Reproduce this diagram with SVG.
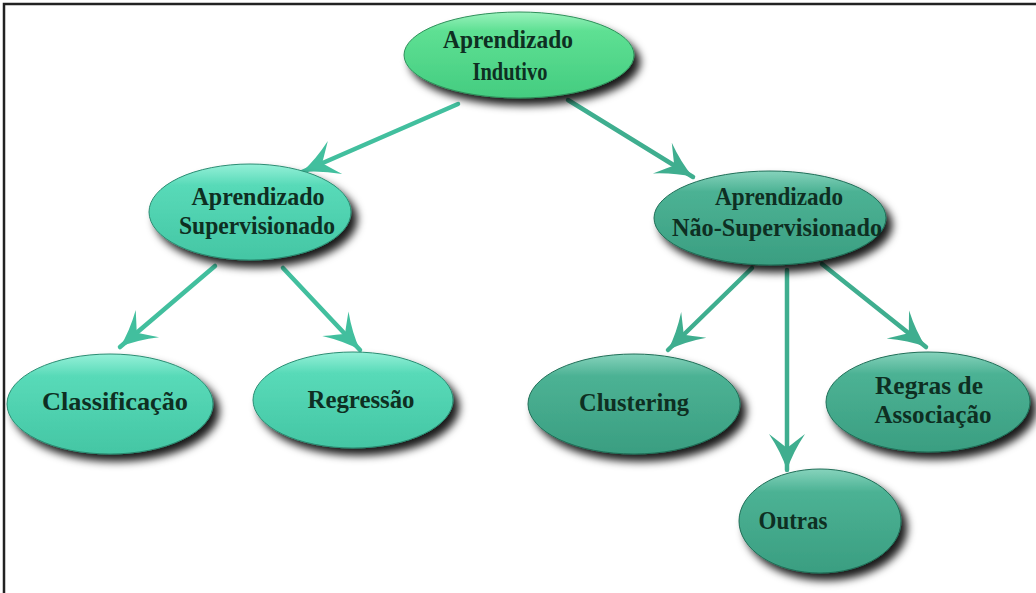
<svg xmlns="http://www.w3.org/2000/svg" width="1036" height="593" viewBox="0 0 1036 593">
<style>
.t{font-family:"Liberation Serif","DejaVu Serif",serif;font-weight:bold;font-size:25px;fill:#0e2f22;text-anchor:middle}
.c{fill:none;stroke-width:4.5;stroke-linecap:round}
</style>
<defs>
<filter id="sh" x="-20%" y="-30%" width="150%" height="170%">
<feGaussianBlur in="SourceAlpha" stdDeviation="4" result="b"/>
<feOffset dx="6" dy="7" result="o"/>
<feFlood flood-color="#000" flood-opacity="0.9"/>
<feComposite in2="o" operator="in" result="s"/>
<feMerge><feMergeNode in="s"/><feMergeNode in="SourceGraphic"/></feMerge>
</filter>
<linearGradient id="gG" x1="0" y1="0" x2="0" y2="1">
<stop offset="0" stop-color="#9af2bd"/><stop offset="0.22" stop-color="#5ee093"/><stop offset="1" stop-color="#44cc80"/>
</linearGradient>
<linearGradient id="gT" x1="0" y1="0" x2="0" y2="1">
<stop offset="0" stop-color="#95f0d8"/><stop offset="0.22" stop-color="#58dab8"/><stop offset="1" stop-color="#44c6a4"/>
</linearGradient>
<linearGradient id="gD" x1="0" y1="0" x2="0" y2="1">
<stop offset="0" stop-color="#86d3bc"/><stop offset="0.22" stop-color="#4cb294"/><stop offset="1" stop-color="#3a9e81"/>
</linearGradient>
<marker id="aL" viewBox="-40 -20 42 40" refX="0" refY="0" markerWidth="42" markerHeight="40" markerUnits="userSpaceOnUse" orient="auto">
<path d="M0,0 Q-18,-6 -36,-18 Q-26,-5 -22,0 Q-26,5 -36,18 Q-18,6 0,0 Z" fill="#42bf9e"/>
</marker>
<marker id="aR" viewBox="-40 -20 42 40" refX="0" refY="0" markerWidth="42" markerHeight="40" markerUnits="userSpaceOnUse" orient="auto">
<path d="M0,0 Q-18,-6 -36,-18 Q-26,-5 -22,0 Q-26,5 -36,18 Q-18,6 0,0 Z" fill="#3fae8f"/>
</marker>
</defs>
<rect width="1036" height="593" fill="#fff"/>
<path d="M4,593 V4 H1036" fill="none" stroke="#222" stroke-width="2.5"/>
<g id="connectors">
<line class="c" stroke="#42bf9e" x1="458" y1="104" x2="302" y2="172" marker-end="url(#aL)"/>
<line class="c" stroke="#3fae8f" x1="568" y1="100" x2="693" y2="177" marker-end="url(#aR)"/>
<line class="c" stroke="#42bf9e" x1="215" y1="266" x2="120" y2="347" marker-end="url(#aL)"/>
<line class="c" stroke="#42bf9e" x1="283" y1="268" x2="360" y2="350" marker-end="url(#aL)"/>
<line class="c" stroke="#3fae8f" x1="752" y1="268" x2="668" y2="350" marker-end="url(#aR)"/>
<line class="c" stroke="#3fae8f" x1="787" y1="270" x2="787" y2="470" marker-end="url(#aR)"/>
<line class="c" stroke="#3fae8f" x1="822" y1="264" x2="926" y2="347" marker-end="url(#aR)"/>
</g>
<g id="n-indutivo">
<ellipse cx="519" cy="55" rx="115" ry="43" fill="url(#gG)" stroke="#2f8f5a" stroke-width="1" filter="url(#sh)"/>
<text class="t" x="508" y="48" textLength="130" lengthAdjust="spacingAndGlyphs">Aprendizado</text>
<text class="t" x="510" y="80" textLength="75" lengthAdjust="spacingAndGlyphs">Indutivo</text>
</g>
<g id="n-supervisionado">
<ellipse cx="250" cy="212" rx="101" ry="48" fill="url(#gT)" stroke="#2a8c72" stroke-width="1" filter="url(#sh)"/>
<text class="t" x="258" y="205" textLength="133" lengthAdjust="spacingAndGlyphs">Aprendizado</text>
<text class="t" x="257" y="234" textLength="156" lengthAdjust="spacingAndGlyphs">Supervisionado</text>
</g>
<g id="n-naosupervisionado">
<ellipse cx="770" cy="218" rx="116" ry="47" fill="url(#gD)" stroke="#1f6e57" stroke-width="1" filter="url(#sh)"/>
<text class="t" x="779" y="205" textLength="128" lengthAdjust="spacingAndGlyphs">Aprendizado</text>
<text class="t" x="777" y="236" textLength="210" lengthAdjust="spacingAndGlyphs">Não-Supervisionado</text>
</g>
<g id="n-classificacao">
<ellipse cx="110" cy="404" rx="103" ry="50" fill="url(#gT)" stroke="#2a8c72" stroke-width="1" filter="url(#sh)"/>
<text class="t" x="115" y="410" textLength="146" lengthAdjust="spacingAndGlyphs">Classificação</text>
</g>
<g id="n-regressao">
<ellipse cx="353" cy="400" rx="100" ry="48" fill="url(#gT)" stroke="#2a8c72" stroke-width="1" filter="url(#sh)"/>
<text class="t" x="361" y="408" textLength="107" lengthAdjust="spacingAndGlyphs">Regressão</text>
</g>
<g id="n-clustering">
<ellipse cx="634" cy="404" rx="106" ry="50" fill="url(#gD)" stroke="#1f6e57" stroke-width="1" filter="url(#sh)"/>
<text class="t" x="634" y="411" textLength="110" lengthAdjust="spacingAndGlyphs">Clustering</text>
</g>
<g id="n-regras">
<ellipse cx="928" cy="402" rx="102" ry="50" fill="url(#gD)" stroke="#1f6e57" stroke-width="1" filter="url(#sh)"/>
<text class="t" x="929" y="394" textLength="108" lengthAdjust="spacingAndGlyphs">Regras de</text>
<text class="t" x="933" y="423" textLength="117" lengthAdjust="spacingAndGlyphs">Associação</text>
</g>
<g id="n-outras">
<ellipse cx="820" cy="521" rx="81" ry="52" fill="url(#gD)" stroke="#1f6e57" stroke-width="1" filter="url(#sh)"/>
<text class="t" x="793" y="529" textLength="69" lengthAdjust="spacingAndGlyphs">Outras</text>
</g>
</svg>
